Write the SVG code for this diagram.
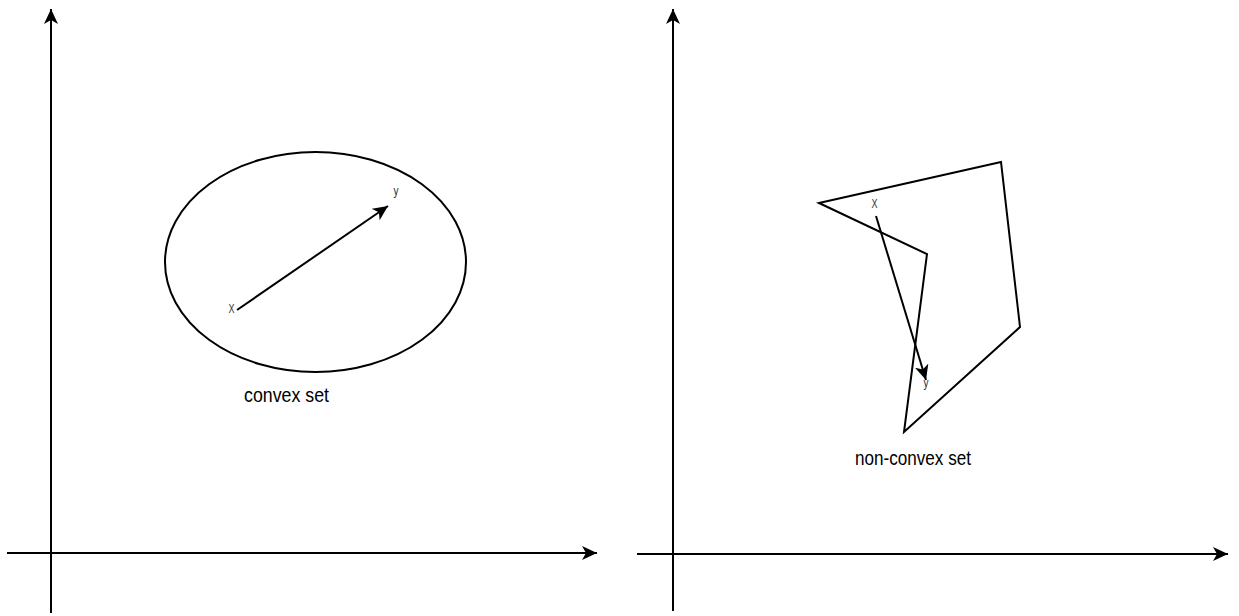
<svg xmlns="http://www.w3.org/2000/svg" width="1239" height="616" viewBox="0 0 1239 616">
<style>
.ln{fill:none;stroke:#000;stroke-width:2}
.lbl{font-family:"Liberation Sans",Arial,sans-serif;font-size:21px;fill:#000}
.pt{font-family:"Liberation Sans",Arial,sans-serif;font-size:12px;fill:#333}
</style>
<defs>
<marker id="ah" viewBox="0 0 16 14" refX="15" refY="7" markerWidth="16" markerHeight="14" markerUnits="userSpaceOnUse" orient="auto">
<path d="M15,7 L0,0 L4,7 L0,14 Z" fill="#000"/>
</marker>
</defs>
<g id="connectors">
<line class="ln" x1="51" y1="613" x2="51" y2="9" marker-end="url(#ah)"/>
<line class="ln" x1="7" y1="553" x2="597" y2="553" marker-end="url(#ah)"/>
<line class="ln" x1="673" y1="611" x2="673" y2="9" marker-end="url(#ah)"/>
<line class="ln" x1="637" y1="554" x2="1228" y2="554" marker-end="url(#ah)"/>
<line class="ln" x1="237" y1="310" x2="388" y2="206" marker-end="url(#ah)"/>
<line class="ln" x1="876" y1="216" x2="926" y2="380" marker-end="url(#ah)"/>
</g>
<g id="convex">
<ellipse class="ln" cx="315.5" cy="262" rx="150.5" ry="110"/>
<text class="pt" x="228.5" y="313" textLength="6" lengthAdjust="spacingAndGlyphs">X</text>
<text class="pt" x="393.5" y="195" textLength="5" lengthAdjust="spacingAndGlyphs">y</text>
<text class="lbl" x="244" y="402" textLength="85" lengthAdjust="spacingAndGlyphs">convex set</text>
</g>
<g id="nonconvex">
<polygon class="ln" points="819,203 1001,162 1020,327 904,432 927,254"/>
<text class="pt" x="871.5" y="208" textLength="6" lengthAdjust="spacingAndGlyphs">X</text>
<text class="pt" x="923.5" y="387" textLength="5" lengthAdjust="spacingAndGlyphs">y</text>
<text class="lbl" x="855" y="465" textLength="116" lengthAdjust="spacingAndGlyphs">non-convex set</text>
</g>
</svg>
